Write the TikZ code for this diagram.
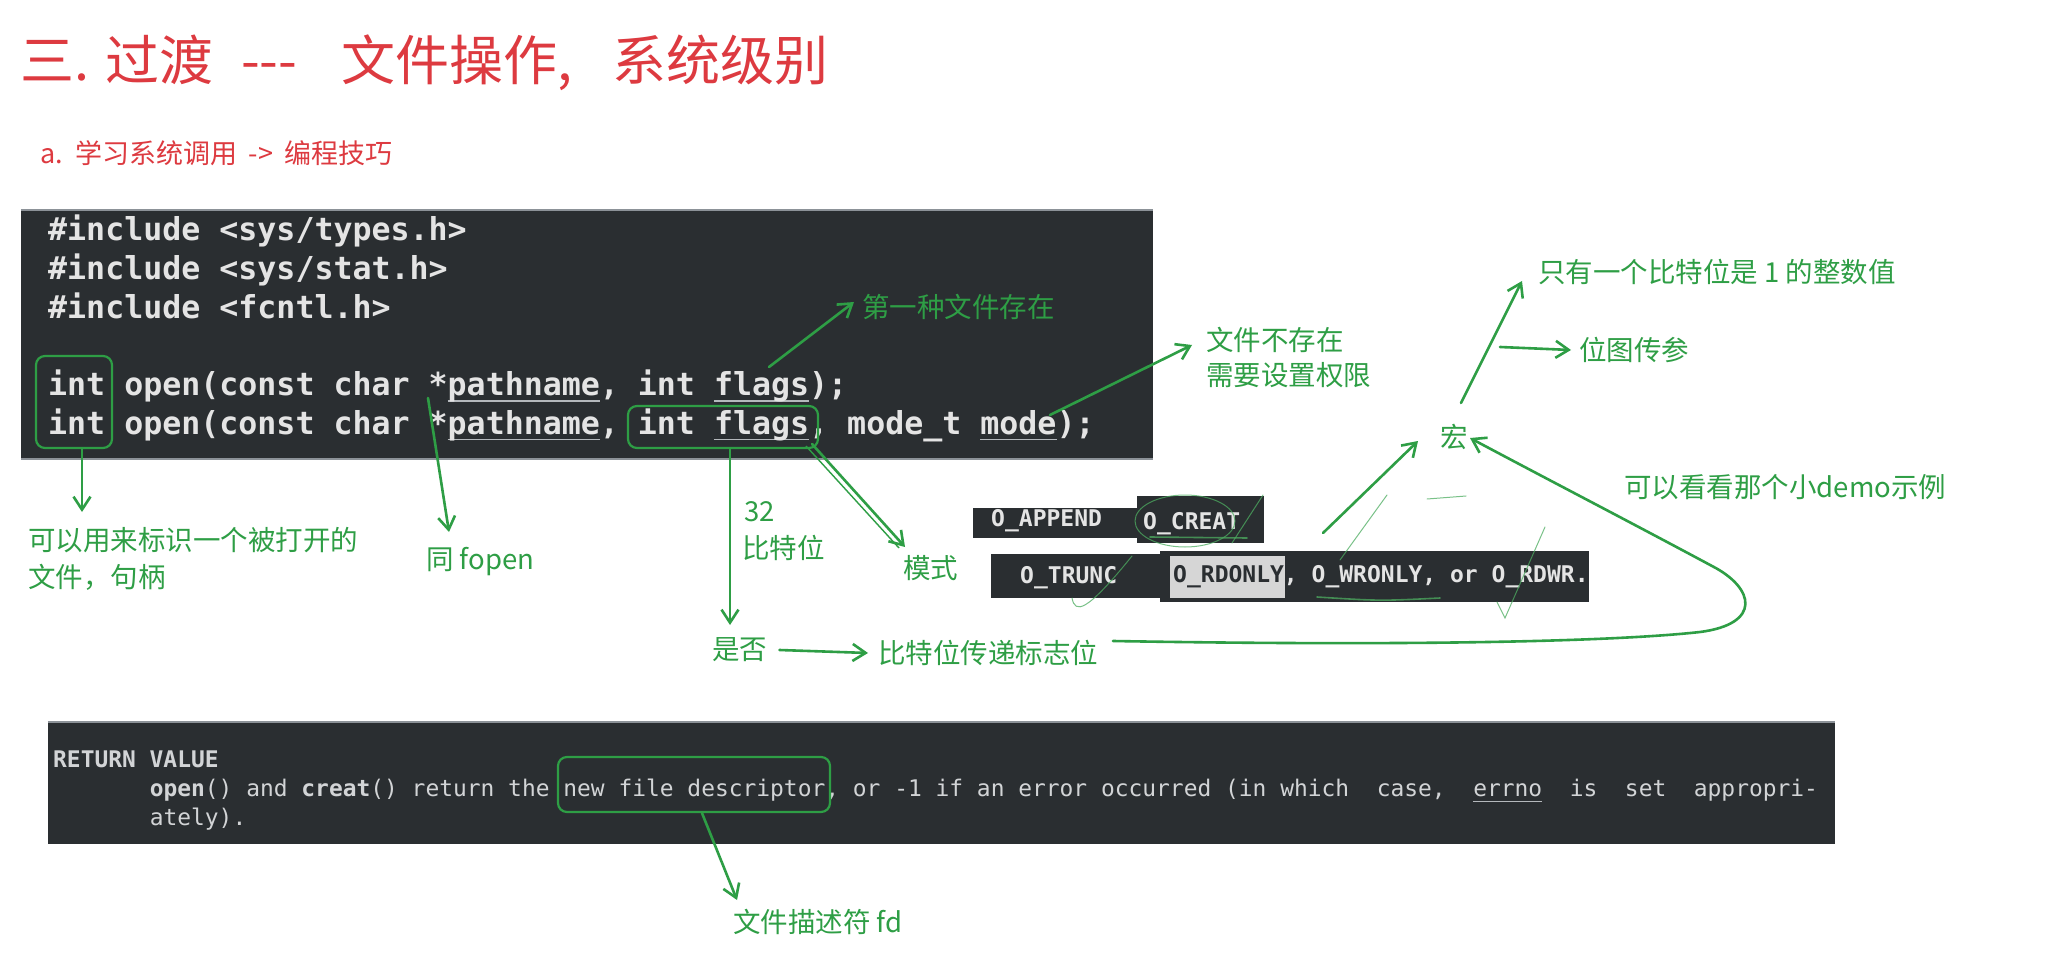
\documentclass[tikz,border=0pt]{standalone}
\usepackage{fontspec}
\usetikzlibrary{arrows.meta}
\newfontfamily\cjk[Ligatures=TeXOff]{Noto Sans CJK SC}
\newfontfamily\mono[Ligatures=TeXOff]{DejaVu Sans Mono}
\definecolor{gcol}{HTML}{2E9E45}
\definecolor{rcol}{HTML}{DD3A40}
\definecolor{codebg}{HTML}{2A2E31}
\definecolor{codefg}{HTML}{E4E4E4}
\definecolor{retfg}{HTML}{D2D4D6}
\definecolor{hl}{HTML}{D6D6D6}
\definecolor{edge}{HTML}{8C9298}
\definecolor{ulc}{HTML}{B4B8BC}
\newcommand\myul[1]{\setbox0\hbox{#1}\rlap{\color{ulc}\rule[-6pt]{\wd0}{1.3pt}}\box0}
\tikzset{
  gtext/.style={text=gcol, font=\cjk\fontsize{27.5}{37}\selectfont, inner sep=0pt, anchor=west},
  garrow/.style={draw=gcol, line width=2.6pt, line cap=round, -{Straight Barb[length=13pt,width=17pt]}},
  gbox/.style={draw=gcol, line width=2.2pt, rounded corners=9pt, inner sep=0pt},
  codebgbox/.style={fill=codebg, inner sep=0pt},
  codeline/.style={text=codefg, font=\mono\bfseries\fontsize{31.6}{38.7}\selectfont, inner sep=0pt, anchor=base west},
  retline/.style={text=retfg, font=\mono\fontsize{22.9}{28}\selectfont, inner sep=0pt, anchor=base west},
  otext/.style={text=codefg, font=\mono\bfseries\fontsize{23}{23}\selectfont, inner sep=0pt, anchor=west},
  scrib/.style={draw=gcol!85, line width=1pt, opacity=0.75, line cap=round},
}
\begin{document}
\begin{tikzpicture}[x=1pt,y=-1pt]
\useasboundingbox (0,0) rectangle (2067,965);
\fill[white] (0,0) rectangle (2067,965);

% titles
\node[anchor=west, text=rcol, font=\cjk\fontsize{54}{54}\selectfont, inner sep=0pt] (title) at (20,63) {三.\hspace{16pt}过渡\hspace{28pt}---\hspace{44pt}文件操作,\hspace{40pt}系统级别};
\node[anchor=west, text=rcol, font=\cjk\fontsize{27}{27}\selectfont, inner sep=0pt] (sub) at (40,153) {a.\hspace{13pt}学习系统调用\hspace{11pt}->\hspace{11pt}编程技巧};

% code box 1
\node[codebgbox, minimum width=1132pt, minimum height=249pt] (codeA) at (587,334.5) {};
\draw[edge, line width=1.5pt] (codeA.north west) -- (codeA.north east);
\draw[edge, line width=1.5pt] (codeA.south west) -- (codeA.south east);
\node[codeline] (c1) at (48,241) {\#include <sys/types.h>};
\node[codeline] (c2) at (48,279.7) {\#include <sys/stat.h>};
\node[codeline] (c3) at (48,318.4) {\#include <fcntl.h>};
\node[codeline] (c4) at (48,395.8) {int open(const char *\myul{pathname}, int \myul{flags});};
\node[codeline] (c5) at (48,434.5) {int open(const char *\myul{pathname}, int \myul{flags}, mode\_t \myul{mode});};

% annotation: int
\node[gbox, minimum width=76pt, minimum height=92pt] (intbox) at (74,402) {};
\coordinate (hTip) at (82,512);
\draw[garrow] (intbox.south -| hTip) -- (hTip);
\node[gtext] (handle1) at (28,540) {可以用来标识一个被打开的};
\node[gtext] (handle2) at (28,577) {文件，句柄};

% annotation: pathname
\coordinate (pStar) at (428,398);
\coordinate (pTip) at (449,532);
\draw[garrow] (pStar) -- (pTip);
\node[gtext] (fopen) at (426,562) {同 fopen};

% annotation: flags (first line)
\coordinate (fA) at (769,367);
\coordinate (fATip) at (854,302);
\draw[garrow] (fA) -- (fATip);
\node[gtext] (exist1) at (862,307) {第一种文件存在};

% annotation: mode
\coordinate (mA) at (1050,415);
\coordinate (mATip) at (1192,345);
\draw[garrow] (mA) -- (mATip);
\node[gtext] (noex1) at (1206,340) {文件不存在};
\node[gtext] (noex2) at (1206,375) {需要设置权限};

% annotation: int flags
\node[gbox, minimum width=190pt, minimum height=42pt] (flagbox) at (723,427) {};
\coordinate (yTip) at (730,625);
\draw[garrow] (flagbox.south -| yTip) -- (yTip);
\node[gtext] (n32) at (744,512) {32};
\node[gtext] (bits) at (742,548) {比特位};
\coordinate (mdS) at (812,444);
\coordinate (mdTip) at (905,547);
\draw[garrow] (mdS) -- (mdTip);
\draw[draw=gcol, line width=1.4pt] (806,446) -- (899,548);
\node[gtext] (mode) at (903,568) {模式};

\node[gtext] (yesno) at (712,650) {是否};
\node[gtext] (bitflag) at (878,653) {比特位传递标志位};
\draw[garrow] ([xshift=12pt]yesno.east) -- ([xshift=-10pt]bitflag.west);

% O_ flag boxes
\node[codebgbox, minimum width=164pt, minimum height=30pt] (bAppend) at (1055,523) {};
\node[codebgbox, minimum width=127pt, minimum height=47pt] (bCreat) at (1200.5,519.5) {};
\node[codebgbox, minimum width=169pt, minimum height=44pt] (bTrunc) at (1075.5,576) {};
\node[codebgbox, minimum width=429pt, minimum height=51pt] (bRd) at (1374.5,576.5) {};
\fill[hl] (1170,556) rectangle (1285,598);
\node[otext] (tAppend) at (991,521) {O\_APPEND};
\node[otext] (tCreat) at (1143,524) {O\_CREAT};
\node[otext] (tTrunc) at (1020,578) {O\_TRUNC};
\node[otext] (tRd) at (1173,577) {{\color{codebg}O\_RDONLY}, O\_WRONLY, or O\_RDWR.};

% scribbles
\draw[scrib] (1185,521) ellipse [x radius=50pt, y radius=26pt];
\draw[scrib, line width=1.6pt] (1150,537) -- (1247,538);
\draw[scrib] (1232,543) -- (1263,495);
\draw[scrib] (1072,598) .. controls (1075,614) and (1086,613) .. (1132,556);
\draw[scrib, line width=1.6pt] (1317,597) .. controls (1380,601) .. (1440,598);
\draw[scrib] (1340,560) -- (1387,495);
\draw[scrib] (1427,499) -- (1466,496);
\draw[scrib] (1497,602) -- (1505,618) -- (1545,527);

% macro
\node[gtext] (macro) at (1440,437) {宏};
\coordinate (crTail) at (1323,533);
\coordinate (crTip) at (1418,441);
\draw[garrow] (crTail) -- (crTip);
\coordinate (upTail) at (1461,403);
\coordinate (upTip) at (1522,281);
\draw[garrow] (upTail) -- (upTip);
\node[gtext] (only1) at (1538,272) {只有一个比特位是 1 的整数值};
\node[gtext] (bitmap) at (1579,350) {位图传参};
\coordinate (bmTail) at (1500,347);
\draw[garrow] (bmTail) -- ([xshift=-8pt]bitmap.west);
\node[gtext] (demo) at (1624,487) {可以看看那个小demo示例};
\coordinate (cvS) at (1113,641);
\coordinate (cvTip) at (1470,438);
\draw[garrow] (cvS) .. controls (1400,646) and (1610,642) .. (1700,632) .. controls (1762,624) and (1755,588) .. (1712,566) .. controls (1630,522) and (1545,478) .. (cvTip);

% return value box
\node[codebgbox, minimum width=1787pt, minimum height=122pt] (codeB) at (941.5,783) {};
\draw[edge, line width=1.5pt] (codeB.north west) -- (codeB.north east);
\node[retline, font=\mono\bfseries\fontsize{22.9}{28}\selectfont] (r1) at (53,767) {RETURN VALUE};
\node[retline] (r2) at (149.6,796) {\textbf{open}() and \textbf{creat}() return the new file descriptor, or -1 if an error occurred (in which\ \ case,\ \ \myul{errno}\ \ is\ \ set\ \ appropri-};
\node[retline] (r3) at (149.6,825) {ately).};
\node[gbox, minimum width=272pt, minimum height=55pt] (fdbox) at (694,784.5) {};
\coordinate (fdTip) at (737,900);
\draw[garrow] ([xshift=8pt]fdbox.south) -- (fdTip);
\node[gtext] (fd) at (733,922) {文件描述符 fd};
\end{tikzpicture}
\end{document}
